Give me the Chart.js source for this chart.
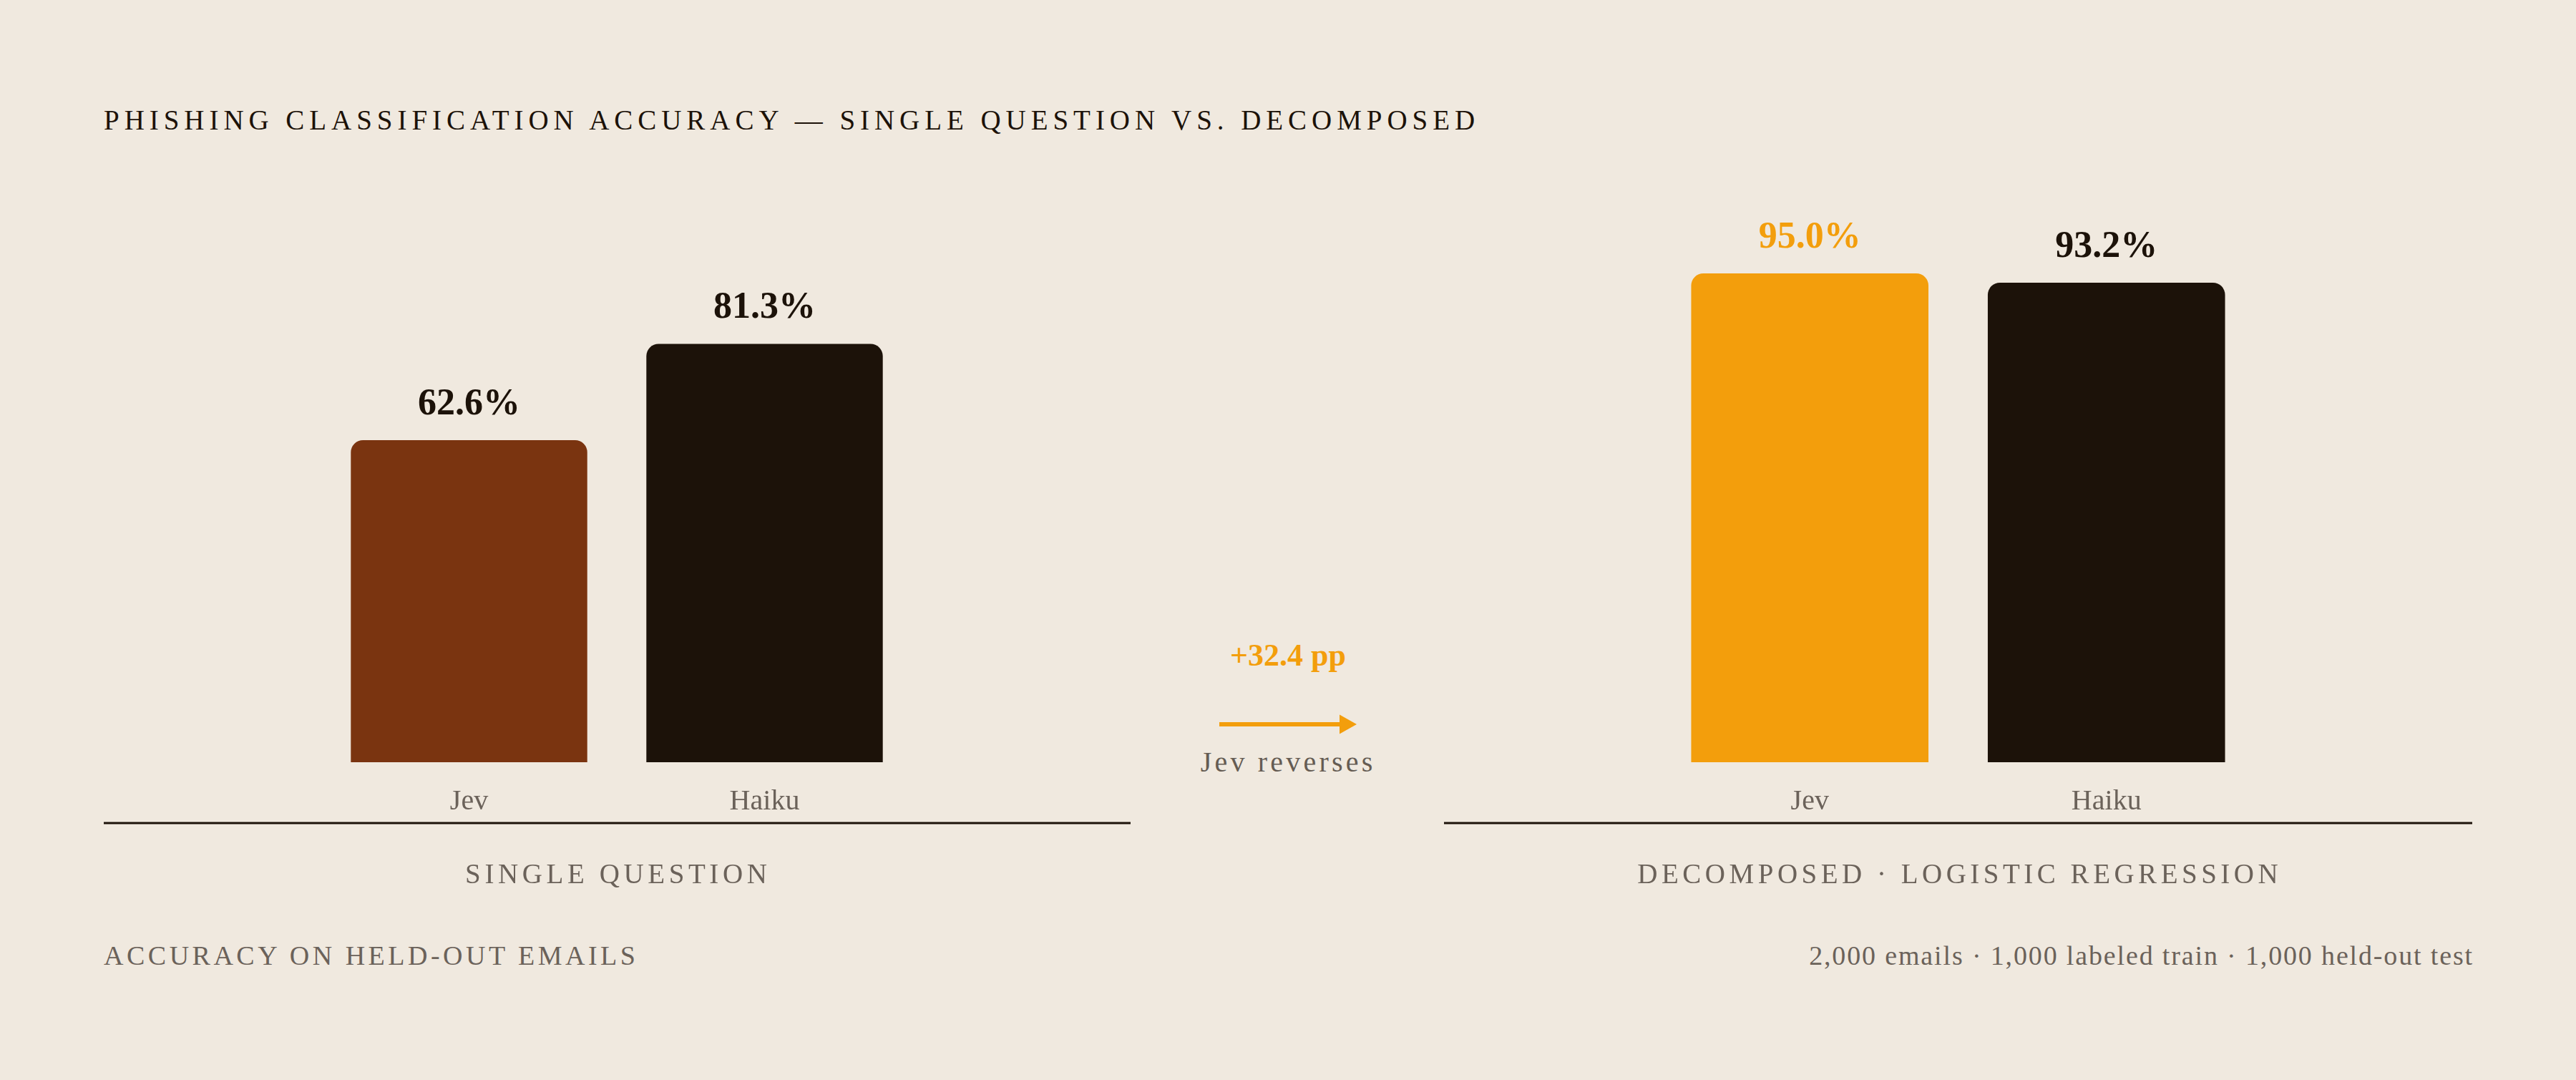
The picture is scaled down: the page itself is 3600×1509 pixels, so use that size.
<!DOCTYPE html>
<html><head><meta charset="utf-8">
<script src="https://cdn.jsdelivr.net/npm/chart.js@4.4.1/dist/chart.umd.min.js"></script>
<style>
html,body{margin:0;padding:0;background:#f0e9df;}
body{width:3600px;height:1509px;position:relative;overflow:hidden;font-family:"Liberation Serif",serif;}
.t{position:absolute;white-space:nowrap;line-height:1;}
canvas{position:absolute;}
</style></head><body>
<div class="t" id="title" style="left:145px;top:148px;font-size:39px;letter-spacing:6.95px;color:#1c1209;"></div>
<div class="t" id="gain" style="left:1800px;top:894px;font-size:44px;font-weight:bold;color:#f39e0c;transform:translateX(-50%);"></div>
<svg style="position:absolute;left:1700px;top:995px;" width="200" height="34">
  <rect x="4" y="14" width="170" height="6" fill="#f39e0c"/>
  <polygon points="172,3.5 196,17 172,30.5" fill="#f39e0c"/>
</svg>
<div class="t" id="note" style="left:1798px;top:1045px;font-size:40px;letter-spacing:4.2px;padding-left:4.2px;color:#655c53;transform:translateX(-50%);"></div>
<canvas id="c1" width="1435" height="1000" style="left:145px;top:250px;"></canvas>
<canvas id="c2" width="1437" height="1000" style="left:2018px;top:250px;"></canvas>
<div class="t" id="p1" style="left:861px;top:1201px;font-size:39px;letter-spacing:5.6px;padding-left:5.6px;color:#6b625a;transform:translateX(-50%);"></div>
<div class="t" id="p2" style="left:2736px;top:1201px;font-size:39px;letter-spacing:5.5px;padding-left:5.5px;color:#6b625a;transform:translateX(-50%);"></div>
<div class="t" id="f1" style="left:145px;top:1316px;font-size:38px;letter-spacing:4.5px;color:#6b625a;"></div>
<div class="t" id="f2" style="right:143px;top:1316px;font-size:38px;letter-spacing:1.85px;color:#6b625a;"></div>
<script>
// ---- data ----
const titleText = 'PHISHING CLASSIFICATION ACCURACY — SINGLE QUESTION VS. DECOMPOSED';
const models = ['Jev', 'Haiku'];
const singleQuestion = [62.6, 81.3];
const decomposed = [95.0, 93.2];
const panelTitles = ['SINGLE QUESTION', 'DECOMPOSED · LOGISTIC REGRESSION'];
const noteText = 'Jev reverses';
const footerLeft = 'ACCURACY ON HELD-OUT EMAILS';
const footerRight = '2,000 emails · 1,000 labeled train · 1,000 held-out test';

// ---- styles ----
const DARK = '#1c1209', BROWN = '#7a3410', ORANGE = '#f39e0c', GRAY = '#6b625a';

document.getElementById('title').textContent = titleText;
document.getElementById('gain').textContent = '+' + (decomposed[0] - singleQuestion[0]).toFixed(1) + ' pp';
document.getElementById('note').textContent = noteText;
document.getElementById('p1').textContent = panelTitles[0];
document.getElementById('p2').textContent = panelTitles[1];
document.getElementById('f1').textContent = footerLeft;
document.getElementById('f2').textContent = footerRight;

const valueLabels = {
  id: 'valueLabels',
  afterDatasetsDraw(chart) {
    const ctx = chart.ctx;
    const ds = chart.data.datasets[0];
    const meta = chart.getDatasetMeta(0);
    ctx.save();
    ctx.font = 'bold 52px "Liberation Serif"';
    ctx.textAlign = 'center';
    ctx.textBaseline = 'alphabetic';
    meta.data.forEach((el, i) => {
      ctx.fillStyle = ds.labelColors[i];
      ctx.fillText(ds.data[i].toFixed(1) + '%', el.x, el.y - 36);
    });
    ctx.restore();
  }
};
const baseline = {
  id: 'baseline',
  afterDraw(chart) {
    const ctx = chart.ctx;
    ctx.save();
    ctx.fillStyle = DARK;
    ctx.fillRect(0, chart.chartArea.bottom + 83.5, chart.width, 3);
    ctx.restore();
  }
};

function makeChart(id, values, barColors, labelColors, padR) {
  return new Chart(document.getElementById(id), {
    type: 'bar',
    data: {
      labels: models,
      datasets: [{
        data: values,
        backgroundColor: barColors,
        labelColors: labelColors,
        borderRadius: {topLeft: 17, topRight: 17, bottomLeft: 0, bottomRight: 0},
        borderSkipped: false,
        barPercentage: 0.8,
        categoryPercentage: 1.0
      }]
    },
    options: {
      responsive: false,
      devicePixelRatio: 1,
      animation: false,
      events: [],
      layout: {padding: {top: 96, left: 304, right: padR, bottom: 115}},
      plugins: {legend: {display: false}, tooltip: {enabled: false}},
      scales: {
        x: {
          grid: {display: false, drawTicks: false},
          border: {display: false},
          ticks: {color: GRAY, font: {family: 'Liberation Serif', size: 40}, padding: 31},
          afterFit(s) { s.height = 70; }
        },
        y: {display: false, min: 0, max: 100}
      }
    },
    plugins: [valueLabels, baseline]
  });
}

makeChart('c1', singleQuestion, [BROWN, DARK], [DARK, DARK], 305);
makeChart('c2', decomposed, [ORANGE, DARK], [ORANGE, DARK], 304);
</script>
</body></html>
